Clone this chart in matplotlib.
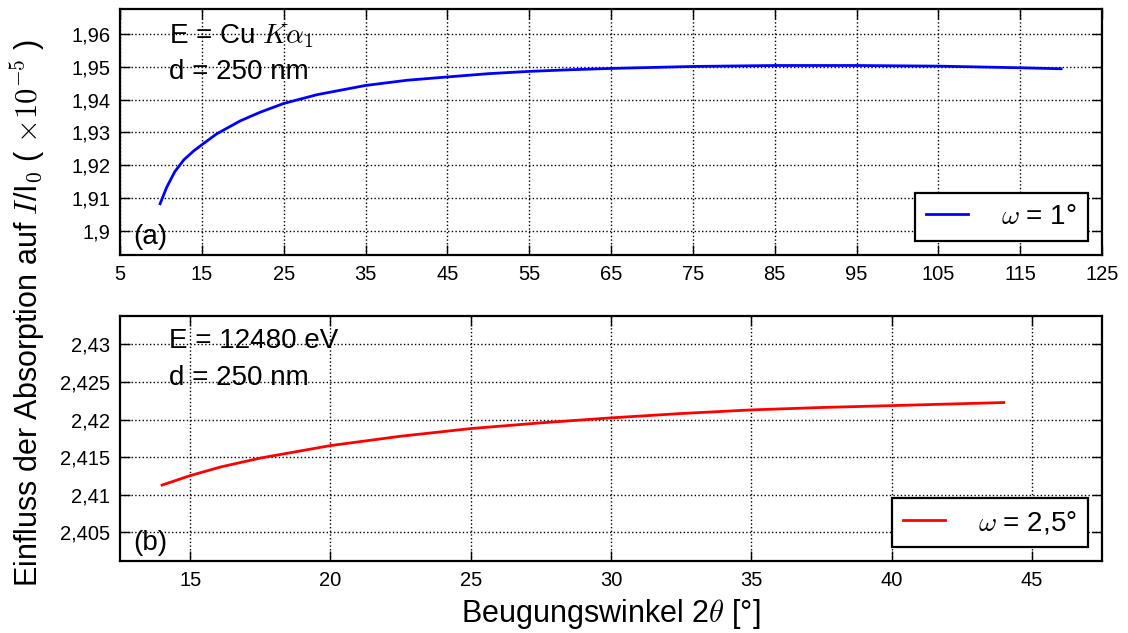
import matplotlib
matplotlib.use("Agg")
import matplotlib.pyplot as plt
from matplotlib.ticker import FuncFormatter

plt.rcParams['font.family'] = ['Liberation Sans', 'DejaVu Sans']
plt.rcParams['mathtext.fontset'] = 'cm'

# (a) Cu K-alpha1, omega = 1 deg
x_a = [9.9, 10.7, 11.7, 12.8, 14.0, 15.0, 16.8, 19.7, 22.1, 25.0, 29.1, 35.0,
       40.1, 45.0, 50, 55, 60, 65, 75, 85, 95, 105, 115, 120]
y_a = [1.9082, 1.9132, 1.9180, 1.9216, 1.9243, 1.9262, 1.9295, 1.9335, 1.9361,
       1.9388, 1.9415, 1.9443, 1.9459, 1.9469, 1.9479, 1.9486, 1.9491, 1.9495,
       1.9501, 1.9504, 1.9504, 1.9502, 1.9497, 1.9494]

# (b) E = 12480 eV, omega = 2.5 deg
x_b = [14, 15, 16.1, 17.5, 20, 22.5, 25, 27.5, 30, 32.5, 35, 37.5, 40, 44]
y_b = [2.41129, 2.41255, 2.41371, 2.41488, 2.41654, 2.41778, 2.41880, 2.41956,
       2.42022, 2.42080, 2.42128, 2.42160, 2.42185, 2.42226]

xt_a = [5, 15, 25, 35, 45, 55, 65, 75, 85, 95, 105, 115, 125]
yt_a = [1.90, 1.91, 1.92, 1.93, 1.94, 1.95, 1.96]
xt_b = [15, 20, 25, 30, 35, 40, 45]
yt_b = [2.405, 2.41, 2.415, 2.42, 2.425, 2.43]

FS = 20
FS_LABEL = 22


def comma(v, pos=None):
    return ('%g' % round(v, 4)).replace('.', ',')


def style(ax):
    ax.tick_params(direction='in', length=7, width=1, top=True, right=True,
                   labelsize=14.5, pad=7)
    for s in ax.spines.values():
        s.set_linewidth(1.6)
    ax.grid(True, color='black', linestyle=':', linewidth=1)
    ax.yaxis.set_major_formatter(FuncFormatter(comma))


def legend(ax):
    leg = ax.legend(loc='lower right', fontsize=FS, fancybox=False,
                    edgecolor='black', framealpha=1, handlelength=1.5,
                    handletextpad=1.2, borderaxespad=0.5, borderpad=0.4)
    leg.get_frame().set_linewidth(1.6)


fig = plt.figure(figsize=(11.28, 6.33), dpi=100)
ax1 = fig.add_axes([0.1064, 0.597, 0.8706, 0.388])
ax2 = fig.add_axes([0.1064, 0.1137, 0.8706, 0.3876])

# upper panel
ax1.plot(x_a, y_a, color='blue', lw=2, label=r'$\omega$ = 1°')
ax1.set_xlim(5, 125)
ax1.set_ylim(1.8925, 1.9675)
ax1.set_xticks(xt_a)
ax1.set_yticks(yt_a)
style(ax1)
ax1.text(0.05, 0.89, r'E = Cu $K\alpha_1$', transform=ax1.transAxes,
         fontsize=FS, va='center')
ax1.text(0.05, 0.745, 'd = 250 nm', transform=ax1.transAxes,
         fontsize=FS, va='center')
ax1.text(0.013, 0.075, '(a)', transform=ax1.transAxes, fontsize=FS, va='center')
legend(ax1)

# lower panel
ax2.plot(x_b, y_b, color='red', lw=2, label=r'$\omega$ = 2,5°')
ax2.set_xlim(12.5, 47.5)
ax2.set_ylim(2.4012, 2.4338)
ax2.set_xticks(xt_b)
ax2.set_yticks(yt_b)
style(ax2)
ax2.text(0.05, 0.898, 'E = 12480 eV', transform=ax2.transAxes,
         fontsize=FS, va='center')
ax2.text(0.05, 0.745, 'd = 250 nm', transform=ax2.transAxes,
         fontsize=FS, va='center')
ax2.text(0.013, 0.073, '(b)', transform=ax2.transAxes, fontsize=FS, va='center')
legend(ax2)
ax2.set_xlabel(r'Beugungswinkel 2$\theta$ [°]', fontsize=FS_LABEL, labelpad=5)

fig.text(0.025, 0.505, r'Einfluss der Absorption auf $I$/I$_0$ ( $\times 10^{-5}$ )',
         rotation=90, fontsize=FS_LABEL, va='center', ha='center')

fig.savefig('out.png', dpi=100)
